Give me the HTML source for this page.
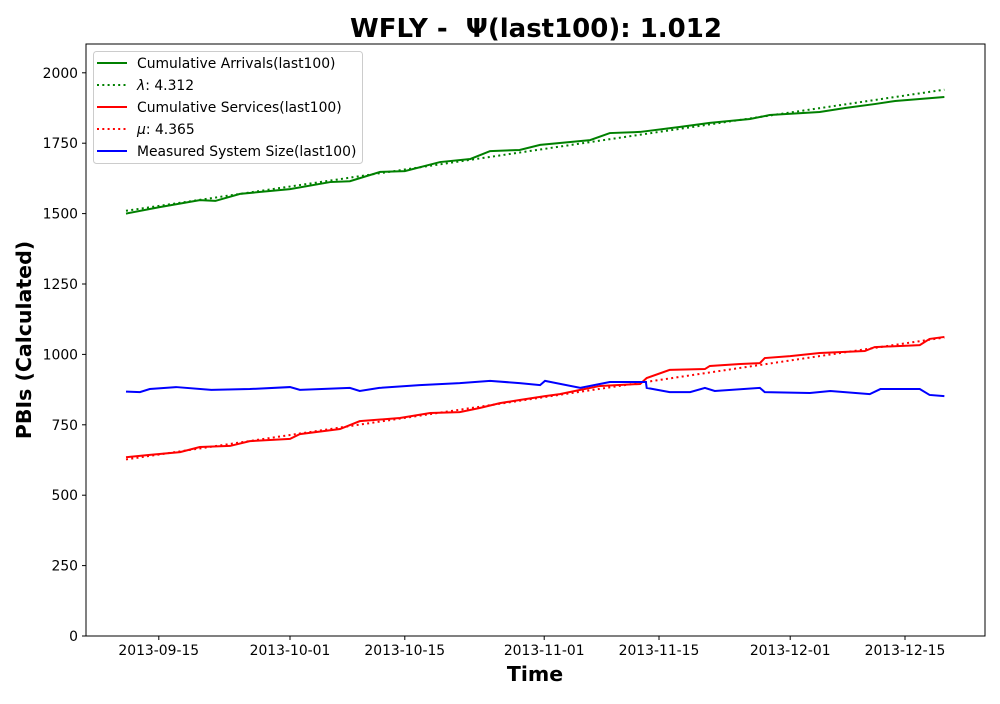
<!DOCTYPE html>
<html><head><meta charset="utf-8">
<style>
body{margin:0;background:#fff;font-family:"DejaVu Sans","Liberation Sans",sans-serif;}
svg text{font-family:"DejaVu Sans","Liberation Sans",sans-serif;}
</style></head>
<body>
<svg id="chart" width="1000" height="700" xmlns="http://www.w3.org/2000/svg">
<rect width="1000" height="700" fill="#fff"/>
<text x="536" y="37" text-anchor="middle" font-size="26" font-weight="bold">WFLY -&#160;&#160;Ψ(last100): 1.012</text>
<text x="535" y="681" text-anchor="middle" font-size="20.5" font-weight="bold">Time</text>
<text transform="translate(31,340) rotate(-90)" text-anchor="middle" font-size="20.5" font-weight="bold">PBIs (Calculated)</text>
<g id="plot"></g>
</svg>
<script>
// day offsets from 2013-09-11
const arrDays=[0,4.1,9,10.9,13.9,20,24.9,27.3,31,34,38.3,42,44.4,48,50.5,56.6,59,62.7,67.6,71.2,76.1,78.5,84.6,87.7,91.3,93.8,99.8];
const arrVals=[1500,1523,1548,1545,1570,1587,1612,1615,1648,1651,1683,1694,1722,1726,1744,1761,1786,1790,1808,1822,1836,1850,1861,1875,1889,1900,1914];
const srvDays=[0,2.9,6.6,9,12.7,15.1,20,21.2,26.1,28.5,33.4,37.1,40.7,43.2,45.6,48,51.1,52.9,55.4,57.8,62.7,63.5,66.3,70.6,71.2,74.9,77.3,77.9,81,84.6,90.1,91.3,96.8,98,99.8];
const srvVals=[635,643,653,671,675,692,700,717,735,763,774,792,795,810,827,838,852,859,874,888,895,916,945,948,959,966,969,987,994,1005,1012,1026,1033,1055,1062];
const sysDays=[0,1.7,2.9,6.1,10.4,15.1,20,21.2,27.3,28.5,30.9,35.8,40.7,44.4,48,50.5,51.1,55.4,59,63.4,63.5,66.3,68.8,70.6,71.8,77.3,77.9,83.4,85.9,90.7,92,96.8,98,99.8];
const sysVals=[868,866,877,884,874,877,884,874,881,870,881,891,898,906,898,891,906,881,902,902,881,866,866,881,870,881,866,863,870,859,877,877,856,852];
const lamFit=[1510,1940];
const muFit=[627,1060];
const yTicks=[0,250,500,750,1000,1250,1500,1750,2000];
const xTickLabels=["2013-09-15","2013-10-01","2013-10-15","2013-11-01","2013-11-15","2013-12-01","2013-12-15"];
const xTickDays=[4,20,34,51,65,81,95];

const L=86,R=985,T=44,B=636;
const X=d=>126+d*8.2;
const Y=v=>636-v*0.2816;
const NS="http://www.w3.org/2000/svg";
const g=document.getElementById('plot');
function mk(t,a,parent){const e=document.createElementNS(NS,t);for(const k in a)e.setAttribute(k,a[k]);(parent||g).appendChild(e);return e;}

yTicks.forEach(v=>{
  const l=mk('line',{x1:L-4,x2:L,y1:Y(v),y2:Y(v),stroke:'#000'});
  
  
  const t=mk('text',{x:L-8,y:Y(v)+5,'text-anchor':'end','font-size':13.9});
  
  
  t.textContent=v;
});
xTickDays.forEach((d,i)=>{
  const l=mk('line',{x1:X(d),x2:X(d),y1:B,y2:B+4,stroke:'#000'});
  
  
  const t=mk('text',{x:X(d),y:B+19,'text-anchor':'middle','font-size':13.9});
  
  
  t.textContent=xTickLabels[i];
});
function series(days,vals,color,dash,name){
  const p=mk('polyline',{points:days.map((d,i)=>X(d)+','+Y(vals[i])).join(' '),fill:'none',stroke:color,'stroke-width':2,'stroke-dasharray':dash||''});
  
  
}
series(arrDays,arrVals,'#008000','', 'arrivals-line');
series([0,99.8],lamFit,'#008000','2,3.3','lambda-fit-line');
series(srvDays,srvVals,'#ff0000','', 'services-line');
series([0,99.8],muFit,'#ff0000','2,3.3','mu-fit-line');
series(sysDays,sysVals,'#0000ff','', 'system-size-line');

const frame=mk('rect',{x:L,y:T,width:R-L,height:B-T,fill:'none',stroke:'#000','stroke-width':1});



const lg=mk('g',{});


mk('rect',{x:93.5,y:51.5,width:269,height:112,rx:3,fill:'#fff','fill-opacity':0.8,stroke:'#ccc'},lg);
const items=[["","Cumulative Arrivals(last100)",'#008000',''],["λ",": 4.312",'#008000','2,3.3'],["","Cumulative Services(last100)",'#ff0000',''],["μ",": 4.365",'#ff0000','2,3.3'],["","Measured System Size(last100)",'#0000ff','']];
items.forEach((it,i)=>{
  const y=63+i*22;
  const e=mk('g',{},lg);
  
  
  mk('line',{x1:97,x2:127,y1:y,y2:y,stroke:it[2],'stroke-width':2,'stroke-dasharray':it[3]},e);
  const t=mk('text',{x:137,y:y+5,'font-size':13.9},e);
  if(it[0]){const s=mk('tspan',{'font-style':'italic'},t);s.textContent=it[0];}
  const s2=mk('tspan',{},t);s2.textContent=it[1];
});
</script>
</body></html>
